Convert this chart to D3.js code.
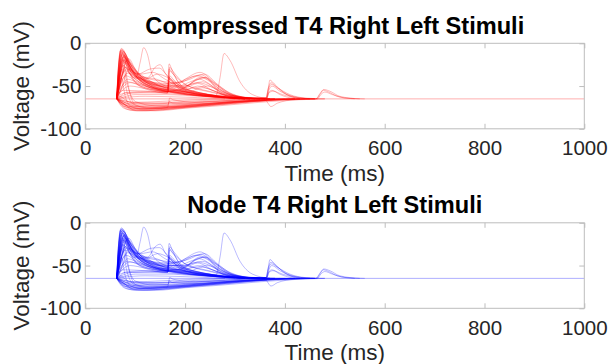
<!DOCTYPE html>
<html>
<head>
<meta charset="utf-8">
<script src="https://cdn.jsdelivr.net/npm/d3@7"></script>
<style>
  body { margin: 0; background: #fff; }
  svg text { font-family: "Liberation Sans", Arial, Helvetica, sans-serif; }
</style>
</head>
<body>
<div id="chart"></div>
<script>
// Ejes
const xTicks = [0, 200, 400, 600, 800, 1000];
const yTicks = [-100, -50, 0];
const xDomain = [0, 1000];
const yDomain = [-100, 0];

// Potencial de reposo (mV), dibujado de 0 a 1000 ms
const restPotential = -65;

// Trazas de voltaje [tiempo ms, voltaje mV]
const compressedTraces = [
  [[63,-65],[66,-35],[71,-8],[76,-10],[88,-30],[105,-42],[130,-50],[164,-56],[168,-24],[173,-30],[190,-48],[230,-58],[290,-63],[360,-65]],
  [[63,-65],[66,-30],[72,-6],[78,-9],[92,-35],[102,-40],[110,-22],[117,-5],[124,-12],[135,-38],[160,-50],[200,-57],[260,-62],[330,-65]],
  [[63,-65],[67,-40],[74,-9],[82,-15],[100,-33],[125,-40],[140,-28],[150,-25],[160,-35],[185,-50],[230,-58],[300,-64],[360,-65]],
  [[63,-65],[66,-30],[73,-7],[80,-12],[100,-35],[140,-48],[180,-50],[200,-42],[230,-34],[255,-44],[280,-56],[320,-63],[380,-65]],
  [[63,-65],[67,-40],[75,-12],[85,-22],[110,-42],[150,-50],[200,-50],[230,-40],[250,-45],[270,-57],[310,-63],[370,-65]],
  [[63,-65],[68,-45],[78,-15],[90,-25],[120,-45],[165,-54],[168,-30],[175,-35],[195,-50],[235,-45],[260,-52],[290,-60],[350,-65]],
  [[63,-65],[67,-35],[76,-10],[86,-18],[105,-35],[140,-47],[166,-52],[169,-28],[176,-33],[200,-48],[250,-57],[320,-64],[380,-65]],
  [[63,-65],[68,-42],[80,-18],[95,-28],[130,-48],[200,-58],[262,-61],[270,-40],[278,-12],[290,-20],[310,-45],[335,-60],[370,-65]],
  [[63,-65],[66,-38],[72,-10],[79,-14],[95,-34],[130,-50],[180,-58],[240,-62],[300,-64],[362,-64],[366,-55],[370,-43],[378,-47],[398,-58],[425,-64],[460,-65]],
  [[63,-65],[67,-45],[77,-20],[90,-30],[120,-48],[170,-56],[230,-61],[300,-64],[362,-64],[367,-52],[372,-46],[385,-52],[410,-61],[450,-65]],
  [[63,-65],[68,-50],[80,-28],[100,-38],[140,-50],[200,-57],[260,-62],[320,-64],[364,-64],[368,-55],[374,-50],[390,-56],[420,-63],[460,-65]],
  [[63,-65],[67,-40],[75,-14],[86,-24],[110,-40],[160,-52],[220,-60],[300,-64],[400,-65],[462,-65],[470,-59],[478,-54],[490,-56],[510,-62],[550,-65]],
  [[63,-65],[68,-48],[78,-22],[92,-32],[130,-50],[190,-58],[260,-63],[340,-65],[465,-65],[472,-60],[480,-57],[495,-60],[520,-64],[560,-65]],
  [[63,-65],[66,-32],[70,-9],[75,-12],[85,-30],[100,-46],[130,-55],[165,-58],[168,-40],[174,-44],[190,-54],[240,-61],[300,-65]],
  [[63,-65],[67,-42],[74,-18],[84,-28],[100,-45],[120,-52],[160,-56],[200,-52],[228,-42],[250,-48],[275,-60],[320,-65]],
  [[63,-65],[68,-50],[80,-32],[100,-42],[130,-52],[166,-57],[169,-38],[176,-42],[200,-52],[225,-47],[255,-55],[290,-62],[340,-65]],
  [[63,-65],[67,-48],[76,-26],[90,-36],[115,-48],[150,-55],[190,-57],[225,-50],[250,-54],[280,-61],[330,-65]],
  [[63,-65],[70,-55],[85,-42],[110,-48],[150,-55],[200,-60],[260,-63],[320,-65]],
  [[63,-65],[70,-58],[90,-50],[120,-53],[165,-57],[168,-45],[175,-48],[200,-55],[250,-61],[310,-65]],
  [[63,-65],[68,-52],[82,-38],[100,-44],[140,-53],[200,-58],[235,-52],[260,-56],[290,-62],[340,-65]],
  [[63,-65],[66,-36],[72,-12],[78,-16],[92,-30],[110,-36],[135,-34],[160,-42],[200,-54],[260,-61],[330,-65]],
  [[63,-65],[67,-44],[74,-20],[84,-27],[105,-40],[135,-41],[160,-46],[200,-56],[260,-62],[320,-65]],
  [[63,-65],[70,-60],[90,-57],[130,-56],[165,-58],[168,-50],[175,-52],[210,-58],[260,-62],[320,-65]],
  [[63,-65],[72,-62],[95,-58],[140,-57],[180,-56],[230,-59],[280,-62],[340,-65]],
  [[63,-65],[75,-63],[100,-60],[160,-60],[230,-62],[300,-64],[360,-65]],
  [[63,-65],[68,-58],[76,-55],[120,-56],[165,-58],[168,-52],[175,-53],[220,-59],[263,-62],[320,-65]],
  [[63,-65],[70,-62],[80,-58],[130,-58],[200,-60],[260,-62],[320,-65]],
  [[63,-65],[68,-44],[76,-18],[88,-30],[105,-36],[130,-30],[148,-29],[165,-38],[190,-50],[240,-59],[300,-64],[350,-65]],
  [[63,-65],[69,-50],[80,-28],[95,-40],[120,-42],[145,-36],[165,-40],[195,-52],[250,-60],[310,-65]],
  [[63,-65],[67,-42],[78,-14],[90,-24],[115,-40],[160,-48],[195,-45],[222,-38],[245,-42],[268,-53],[300,-62],[350,-65]],
  [[63,-65],[68,-50],[82,-30],[100,-38],[140,-47],[185,-50],[215,-44],[240,-40],[262,-48],[290,-58],[340,-65]],
  [[63,-65],[69,-52],[85,-35],[110,-43],[150,-50],[190,-52],[225,-46],[250,-50],[275,-58],[320,-64],[360,-65]],
  [[63,-65],[66,-38],[76,-16],[88,-28],[110,-38],[150,-44],[180,-46],[210,-40],[232,-37],[258,-47],[285,-58],[330,-65]],
  [[63,-65],[70,-56],[90,-46],[130,-52],[180,-55],[220,-52],[245,-50],[270,-56],[300,-62],[350,-65]],
  [[63,-65],[69,-50],[80,-22],[87,-18],[100,-30],[125,-42],[166,-52],[169,-32],[176,-36],[200,-48],[240,-55],[290,-61],[350,-65]],
  [[63,-65],[70,-48],[84,-20],[92,-24],[110,-38],[150,-50],[200,-56],[260,-61],[320,-64],[370,-65]],
  [[63,-65],[71,-55],[88,-30],[98,-34],[120,-45],[165,-54],[168,-42],[174,-45],[200,-55],[260,-61],[320,-65]],
  [[63,-65],[67,-38],[74,-12],[82,-18],[98,-36],[120,-47],[160,-54],[210,-60],[270,-63],[330,-65]],
  [[63,-65],[72,-68],[85,-74],[100,-78],[140,-78],[200,-75],[280,-71],[360,-67],[440,-65]],
  [[63,-65],[75,-70],[95,-77],[150,-76],[220,-73],[300,-69],[380,-66],[450,-65]],
  [[63,-65],[70,-67],[90,-72],[120,-75],[180,-73],[250,-70],[330,-67],[400,-65]],
  [[63,-65],[70,-70],[85,-73],[110,-77],[160,-76],[240,-72],[320,-68],[400,-66],[460,-65]],
  [[63,-65],[74,-68],[100,-72],[160,-72],[240,-69],[320,-66],[380,-65]],
  [[63,-65],[68,-66],[85,-70],[130,-71],[200,-69],[280,-67],[350,-65]],
  [[63,-65],[80,-72],[100,-75],[130,-76],[165,-75],[168,-68],[175,-70],[220,-71],[300,-68],[380,-66],[430,-65]],
  [[63,-65],[72,-72],[90,-78],[115,-79],[160,-77],[230,-73],[300,-69],[362,-67],[366,-70],[372,-74],[385,-70],[420,-66],[460,-65]],
  [[63,-65],[78,-74],[110,-76],[170,-74],[250,-71],[330,-68],[362,-67],[367,-58],[374,-55],[390,-60],[420,-65]],
  [[63,-65],[75,-67],[100,-69],[150,-68],[220,-66],[280,-65]],
  [[63,-65],[66,-40],[72,-14],[80,-30],[90,-60],[100,-72],[130,-76],[200,-73],[280,-69],[360,-66],[420,-65]],
  [[63,-65],[67,-45],[75,-25],[85,-50],[100,-68],[140,-73],[220,-71],[300,-68],[380,-65]],
  [[63,-65],[70,-62],[80,-66],[95,-70],[140,-70],[200,-68],[270,-66],[330,-65]],
  [[63,-65],[70,-72],[82,-77],[105,-79],[150,-78],[210,-75],[290,-71],[370,-67],[450,-65]],
  [[63,-65],[72,-70],[90,-76],[130,-77],[190,-75],[260,-72],[340,-68],[420,-65]],
  [[63,-65],[68,-68],[80,-71],[110,-74],[170,-74],[240,-71],[310,-68],[390,-65]],
  [[63,-65],[76,-73],[100,-78],[140,-79],[200,-76],[270,-73],[350,-69],[430,-66],[480,-65]],
  [[63,-65],[70,-66],[95,-69],[140,-70],[190,-70],[250,-68],[320,-66],[370,-65]],
  [[63,-65],[66,-55],[72,-40],[80,-62],[92,-74],[120,-77],[180,-75],[250,-72],[330,-68],[410,-65]],
  [[63,-65],[66,-50],[74,-30],[84,-58],[98,-72],[140,-75],[210,-73],[290,-69],[370,-66],[430,-65]],
  [[63,-65],[72,-69],[90,-74],[120,-73],[166,-72],[169,-64],[176,-66],[220,-69],[290,-68],[360,-66],[420,-65]],
  [[63,-65],[68,-55],[85,-45],[120,-52],[180,-58],[250,-62],[320,-64],[363,-64],[367,-54],[373,-48],[385,-52],[410,-60],[440,-64],[480,-65]],
  [[63,-65],[72,-64],[120,-62],[200,-63],[300,-65],[463,-65],[470,-60],[477,-55],[488,-57],[505,-62],[540,-65]],
  [[63,-65],[67,-44],[77,-16],[88,-26],[110,-44],[150,-54],[200,-59],[250,-62],[310,-64],[364,-64],[368,-58],[376,-56],[395,-60],[430,-65]],
  [[63,-65],[66,-34],[73,-8],[79,-11],[95,-33],[130,-46],[185,-55],[220,-44],[240,-40],[260,-50],[290,-60],[340,-65]],
  [[63,-65],[68,-46],[79,-20],[94,-32],[130,-45],[170,-47],[205,-43],[238,-36],[265,-48],[295,-60],[345,-65]]
];

// El panel "Node" muestra prácticamente las mismas trazas
const nodeTraces = compressedTraces;

const panels = [
  { title: "Compressed T4 Right Left Stimuli", color: "#ff0000", traces: compressedTraces, top: 43.3 },
  { title: "Node T4 Right Left Stimuli", color: "#0000ff", traces: nodeTraces, top: 222.8 }
];

// Dimensiones
const W = 610, H = 364;
const left = 85.3, plotW = 499, plotH = 85.5;
const axisGray = "#bdbdbd";
const textColor = "#262626";

const svg = d3.select("#chart")
  .append("svg")
  .attr("width", W)
  .attr("height", H);

const x = d3.scaleLinear().domain(xDomain).range([0, plotW]);
const y = d3.scaleLinear().domain(yDomain).range([plotH, 0]);

const line = d3.line()
  .x(d => x(d[0]))
  .y(d => y(d[1]))
  .curve(d3.curveMonotoneX);

const fmt = d => String(d);

panels.forEach((p, i) => {
  const g = svg.append("g").attr("transform", `translate(${left}, ${p.top})`);

  g.append("clipPath").attr("id", "clip" + i)
    .append("rect").attr("width", plotW).attr("height", plotH);

  const plot = g.append("g").attr("clip-path", `url(#clip${i})`);

  // Línea de reposo
  plot.append("path")
    .datum([[xDomain[0], restPotential], [xDomain[1], restPotential]])
    .attr("d", line)
    .attr("fill", "none")
    .attr("stroke", p.color)
    .attr("stroke-opacity", 0.45)
    .attr("stroke-width", 0.7);

  // Trazas
  plot.selectAll("path.trace")
    .data(p.traces)
    .enter()
    .append("path")
    .attr("class", "trace")
    .attr("d", line)
    .attr("fill", "none")
    .attr("stroke", p.color)
    .attr("stroke-opacity", 0.42)
    .attr("stroke-width", 0.65);

  // Caja
  g.append("rect")
    .attr("width", plotW)
    .attr("height", plotH)
    .attr("fill", "none")
    .attr("stroke", axisGray)
    .attr("stroke-width", 1);

  // Ejes
  const styleAxis = sel => {
    sel.select(".domain").remove();
    sel.selectAll(".tick line").attr("stroke", axisGray);
    sel.selectAll("text")
      .attr("fill", textColor)
      .style("font-size", "20.5px");
  };

  g.append("g")
    .attr("transform", `translate(0, ${plotH})`)
    .call(d3.axisBottom(x).tickValues(xTicks).tickFormat(fmt).tickSizeInner(-5).tickSizeOuter(0).tickPadding(12))
    .call(styleAxis);
  g.append("g")
    .call(d3.axisTop(x).tickValues(xTicks).tickFormat("").tickSizeInner(-5).tickSizeOuter(0))
    .call(styleAxis);
  g.append("g")
    .call(d3.axisLeft(y).tickValues(yTicks).tickFormat(fmt).tickSizeInner(-5).tickSizeOuter(0).tickPadding(4))
    .call(styleAxis);
  g.append("g")
    .attr("transform", `translate(${plotW}, 0)`)
    .call(d3.axisRight(y).tickValues(yTicks).tickFormat("").tickSizeInner(-5).tickSizeOuter(0))
    .call(styleAxis);

  // Título
  g.append("text")
    .attr("x", plotW / 2)
    .attr("y", -9.5)
    .attr("text-anchor", "middle")
    .attr("font-weight", "bold")
    .attr("font-size", "23.6px")
    .attr("fill", "#000")
    .text(p.title);

  // Etiqueta del eje X
  g.append("text")
    .attr("x", plotW / 2)
    .attr("y", plotH + 52)
    .attr("text-anchor", "middle")
    .attr("font-size", "22.5px")
    .attr("fill", textColor)
    .text("Time (ms)");

  // Etiqueta del eje Y
  g.append("text")
    .attr("transform", `translate(${29 - left}, ${plotH / 2}) rotate(-90)`)
    .attr("text-anchor", "middle")
    .attr("font-size", "22.5px")
    .attr("fill", textColor)
    .text("Voltage (mV)");
});
</script>
</body>
</html>
